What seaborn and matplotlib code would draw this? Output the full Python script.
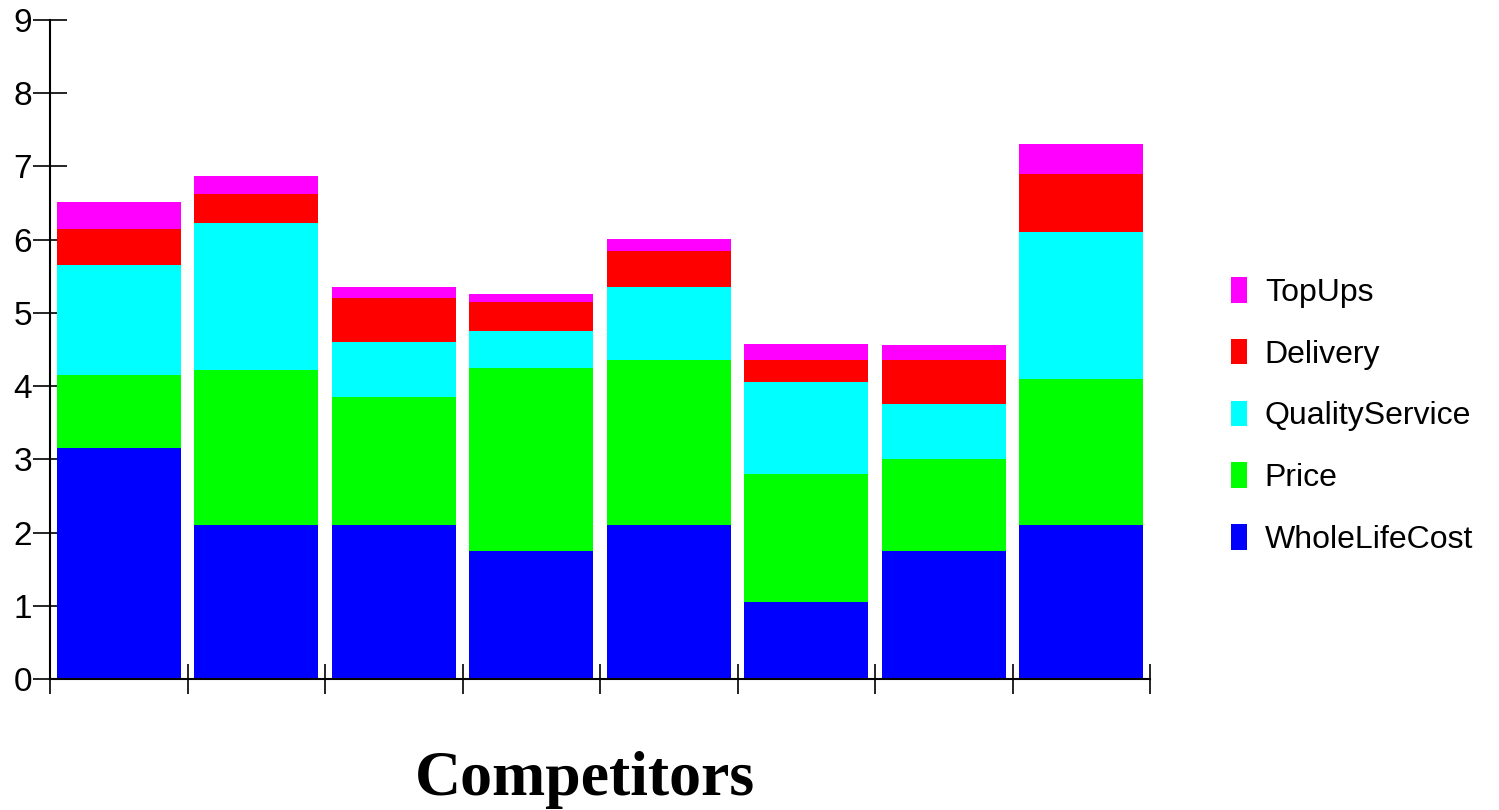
import matplotlib
matplotlib.use("Agg")
import matplotlib.pyplot as plt
import seaborn as sns
import numpy as np
from matplotlib.patches import Patch

# Data: one stacked bar per competitor, five weighted score components
competitors = ["A", "B", "C", "D", "E", "F", "G", "H"]
whole_life_cost = [3.15, 2.10, 2.10, 1.75, 2.10, 1.05, 1.75, 2.10]
price = [1.00, 2.125, 1.75, 2.50, 2.25, 1.75, 1.25, 2.00]
quality_service = [1.50, 2.00, 0.75, 0.50, 1.00, 1.25, 0.75, 2.00]
delivery = [0.50, 0.40, 0.60, 0.40, 0.50, 0.30, 0.60, 0.80]
top_ups = [0.36, 0.25, 0.16, 0.11, 0.16, 0.22, 0.21, 0.40]

series_names = ["WholeLifeCost", "Price", "QualityService", "Delivery", "TopUps"]
series_values = [whole_life_cost, price, quality_service, delivery, top_ups]
series_colors = ["#0000FF", "#00FF00", "#00FFFF", "#FF0000", "#FF00FF"]
y_ticks = [0, 1, 2, 3, 4, 5, 6, 7, 8, 9]

sns.set_style("ticks")
plt.rcParams["font.family"] = ["Liberation Sans", "DejaVu Sans"]
plt.rcParams["text.color"] = "black"
plt.rcParams["axes.labelcolor"] = "black"
plt.rcParams["xtick.color"] = "black"
plt.rcParams["ytick.color"] = "black"

fig = plt.figure(figsize=(14.99, 8.10), dpi=100)
ax = fig.add_axes([50 / 1499, 131 / 810, 1100 / 1499, 659 / 810])

# Stack by drawing cumulative totals from the top layer downwards
cumulative = np.cumsum(np.array(series_values, dtype=float), axis=0)
for i in range(len(series_names) - 1, -1, -1):
    sns.barplot(x=competitors, y=cumulative[i], order=competitors,
                color=series_colors[i], saturation=1, width=0.9,
                linewidth=0, ax=ax)

ax.set_xlim(-0.5, len(competitors) - 0.5)
ax.set_ylim(0, 9)
ax.set_yticks(y_ticks)
ax.set_yticklabels([str(t) for t in y_ticks])
ax.set_xticks(np.arange(-0.5, len(competitors), 1))
ax.set_xticklabels([])

for side in ("top", "right"):
    ax.spines[side].set_visible(False)
for side in ("left", "bottom"):
    ax.spines[side].set_linewidth(1.5)
    ax.spines[side].set_color("black")

ax.tick_params(axis="y", direction="inout", length=25, width=1.2,
               labelsize=24, pad=0.5, colors="black")
ax.tick_params(axis="x", direction="inout", length=22, width=1.2, colors="black")

ax.set_ylabel("")
ax.set_xlabel("Competitors", fontsize=46, fontweight="bold",
              family=["Liberation Serif", "DejaVu Serif"])
ax.xaxis.label.set_verticalalignment("baseline")
ax.xaxis.set_label_coords(535 / 1100, -116 / 659)

handles = [Patch(facecolor=series_colors[i], edgecolor="none")
           for i in range(len(series_names) - 1, -1, -1)]
labels = series_names[::-1]
fig.legend(handles, labels, loc="center left",
           bbox_to_anchor=(1231 / 1499, 1 - 416 / 810),
           frameon=False, fontsize=23, handlelength=0.5, handleheight=0.85,
           handletextpad=0.56, labelspacing=0.97, borderpad=0, borderaxespad=0)

fig.savefig("out.png", dpi=100)
